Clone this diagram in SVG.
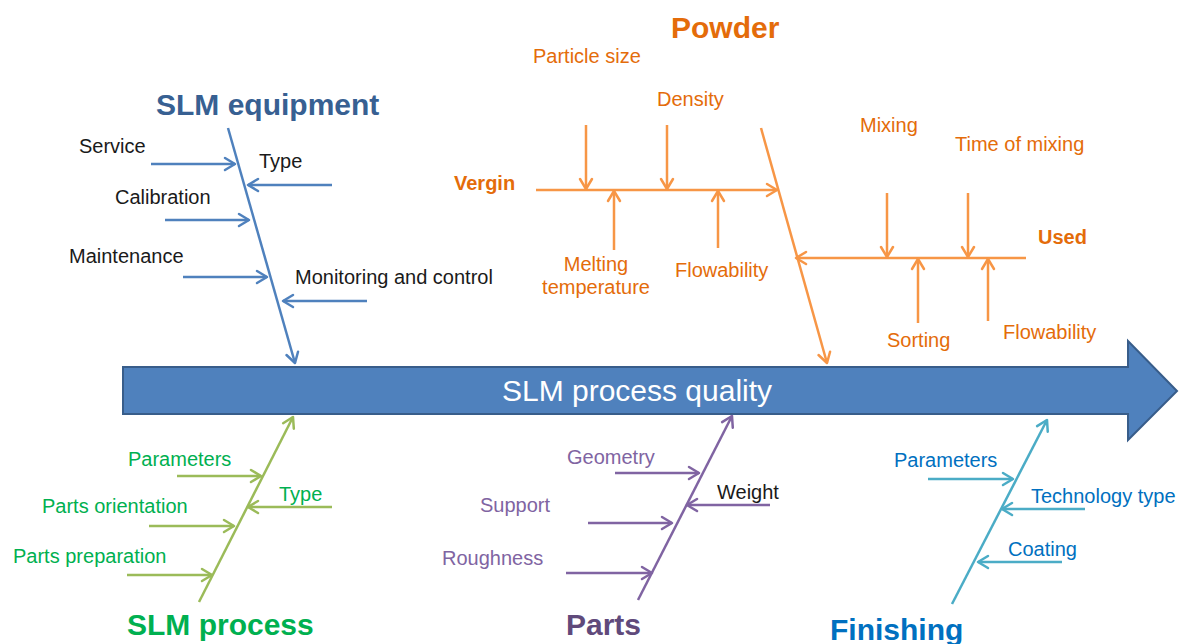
<svg xmlns="http://www.w3.org/2000/svg" width="1179" height="644" viewBox="0 0 1179 644">
<style>
text{font-family:"Liberation Sans",Arial,sans-serif;font-size:20px}
.t{font-size:30px;font-weight:bold}
.b{font-weight:bold}
line{stroke-width:2.5;fill:none}
.bl line{stroke:#4F81BD;marker-end:url(#mb)}
.or line{stroke:#F79646;marker-end:url(#mo)}
.gr line{stroke:#9BBB59;marker-end:url(#mg)}
.pu line{stroke:#8064A2;marker-end:url(#mp)}
.cy line{stroke:#4BACC6;marker-end:url(#mc)}
.k{fill:#1a1a1a}
.o{fill:#E46C0A}
.g{fill:#00B050}
.p{fill:#8064A2}
.c{fill:#0070C0}
</style>
<defs>
<marker id="mb" viewBox="-12 -8 14 16" refX="0" refY="0" markerWidth="14" markerHeight="16" markerUnits="userSpaceOnUse" orient="auto"><path d="M-10,-6 L0,0 L-10,6" fill="none" stroke="#4F81BD" stroke-width="2.5" stroke-linejoin="round" stroke-linecap="round"/></marker>
<marker id="mo" viewBox="-12 -8 14 16" refX="0" refY="0" markerWidth="14" markerHeight="16" markerUnits="userSpaceOnUse" orient="auto"><path d="M-10,-6 L0,0 L-10,6" fill="none" stroke="#F79646" stroke-width="2.5" stroke-linejoin="round" stroke-linecap="round"/></marker>
<marker id="mg" viewBox="-12 -8 14 16" refX="0" refY="0" markerWidth="14" markerHeight="16" markerUnits="userSpaceOnUse" orient="auto"><path d="M-10,-6 L0,0 L-10,6" fill="none" stroke="#9BBB59" stroke-width="2.5" stroke-linejoin="round" stroke-linecap="round"/></marker>
<marker id="mp" viewBox="-12 -8 14 16" refX="0" refY="0" markerWidth="14" markerHeight="16" markerUnits="userSpaceOnUse" orient="auto"><path d="M-10,-6 L0,0 L-10,6" fill="none" stroke="#8064A2" stroke-width="2.5" stroke-linejoin="round" stroke-linecap="round"/></marker>
<marker id="mc" viewBox="-12 -8 14 16" refX="0" refY="0" markerWidth="14" markerHeight="16" markerUnits="userSpaceOnUse" orient="auto"><path d="M-10,-6 L0,0 L-10,6" fill="none" stroke="#4BACC6" stroke-width="2.5" stroke-linejoin="round" stroke-linecap="round"/></marker>
</defs>
<rect width="1179" height="644" fill="#fff"/>

<g id="main">
<path d="M123,367 L1128,367 L1128,341 L1177,391 L1128,440 L1128,414 L123,414 Z" fill="#4F81BD" stroke="#385D8A" stroke-width="2"/>
<text x="637" y="401" text-anchor="middle" fill="#fff" style="font-size:30px">SLM process quality</text>
</g>

<g id="connectors">
<g class="bl">
<line x1="228" y1="128" x2="295" y2="363"/>
<line x1="151" y1="164" x2="235" y2="164"/>
<line x1="332" y1="185" x2="248" y2="185"/>
<line x1="165" y1="220" x2="249" y2="220"/>
<line x1="183" y1="277" x2="267" y2="277"/>
<line x1="367" y1="301" x2="283" y2="301"/>
</g>
<g class="or">
<line x1="761" y1="128" x2="827" y2="363"/>
<line x1="536" y1="190" x2="777" y2="190"/>
<line x1="586" y1="125" x2="586" y2="189"/>
<line x1="667" y1="125" x2="667" y2="189"/>
<line x1="614" y1="250" x2="614" y2="191"/>
<line x1="718" y1="248" x2="718" y2="191"/>
<line x1="1026" y1="258" x2="796" y2="258"/>
<line x1="887" y1="193" x2="887" y2="257"/>
<line x1="968" y1="193" x2="968" y2="257"/>
<line x1="918" y1="323" x2="918" y2="259"/>
<line x1="988" y1="321" x2="988" y2="259"/>
</g>
<g class="gr">
<line x1="199" y1="602" x2="293" y2="417"/>
<line x1="177" y1="476" x2="261" y2="476"/>
<line x1="332" y1="507" x2="248" y2="507"/>
<line x1="149" y1="526" x2="234" y2="526"/>
<line x1="127" y1="575" x2="212" y2="575"/>
</g>
<g class="pu">
<line x1="638" y1="600" x2="732" y2="416"/>
<line x1="615" y1="473" x2="699" y2="473"/>
<line x1="770" y1="505" x2="687" y2="505"/>
<line x1="588" y1="523" x2="672" y2="523"/>
<line x1="566" y1="573" x2="652" y2="573"/>
</g>
<g class="cy">
<line x1="952" y1="604" x2="1047" y2="420"/>
<line x1="928" y1="479" x2="1013" y2="479"/>
<line x1="1085" y1="509" x2="1002" y2="509"/>
<line x1="1062" y1="562" x2="978" y2="562"/>
</g>
</g>

<g id="slm-equipment">
<text class="t" x="156" y="115" fill="#376092">SLM equipment</text>
<text class="k" x="79" y="153">Service</text>
<text class="k" x="259" y="168">Type</text>
<text class="k" x="115" y="204">Calibration</text>
<text class="k" x="69" y="263">Maintenance</text>
<text class="k" x="295" y="284">Monitoring and control</text>
</g>

<g id="powder">
<text class="t o" x="671" y="38">Powder</text>
<text class="o" x="533" y="63">Particle size</text>
<text class="o" x="657" y="106">Density</text>
<text class="o b" x="454" y="190">Vergin</text>
<text class="o" x="596" y="271" text-anchor="middle">Melting</text>
<text class="o" x="596" y="294" text-anchor="middle">temperature</text>
<text class="o" x="675" y="277">Flowability</text>
<text class="o" x="860" y="132">Mixing</text>
<text class="o" x="955" y="151">Time of mixing</text>
<text class="o b" x="1038" y="244">Used</text>
<text class="o" x="887" y="347">Sorting</text>
<text class="o" x="1003" y="339">Flowability</text>
</g>

<g id="slm-process">
<text class="t g" x="127" y="635">SLM process</text>
<text class="g" x="128" y="466">Parameters</text>
<text class="g" x="279" y="501">Type</text>
<text class="g" x="42" y="513">Parts orientation</text>
<text class="g" x="13" y="563">Parts preparation</text>
</g>

<g id="parts">
<text class="t" x="566" y="635" fill="#604A7B">Parts</text>
<text class="p" x="567" y="464">Geometry</text>
<text class="k" x="717" y="499">Weight</text>
<text class="p" x="480" y="512">Support</text>
<text class="p" x="442" y="565">Roughness</text>
</g>

<g id="finishing">
<text class="t c" x="830" y="640">Finishing</text>
<text class="c" x="894" y="467">Parameters</text>
<text class="c" x="1031" y="503">Technology type</text>
<text class="c" x="1008" y="556">Coating</text>
</g>
</svg>
